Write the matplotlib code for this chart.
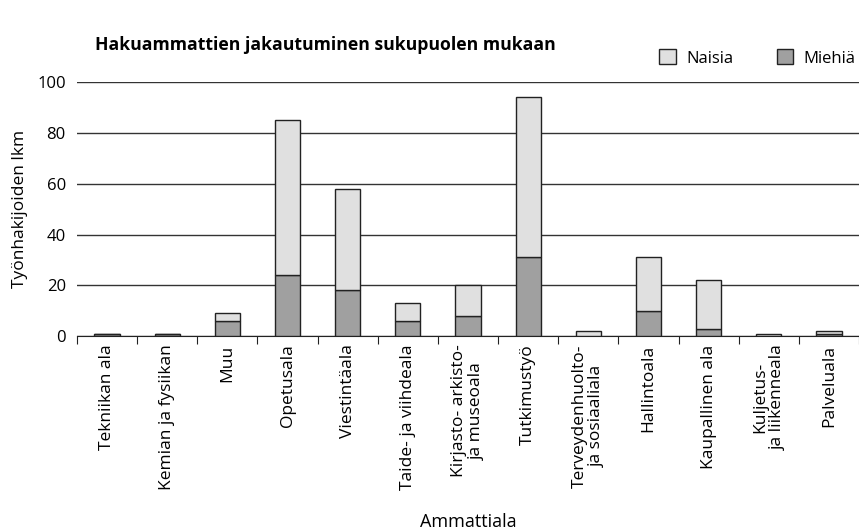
import numpy as np
import matplotlib.pyplot as plt

plt.rcParams['font.family'] = ['Open Sans', 'DejaVu Sans']

categories = ['Tekniikan ala', 'Kemian ja fysiikan', 'Muu', 'Opetusala', 'Viestintäala',
              'Taide- ja viihdeala', 'Kirjasto- arkisto-\nja museoala', 'Tutkimustyö',
              'Terveydenhuolto-\nja sosiaaliala', 'Hallintoala', 'Kaupallinen ala',
              'Kuljetus-\nja liikenneala', 'Palveluala']
miehia = [1, 1, 6, 24, 18, 6, 8, 31, 0, 10, 3, 0, 1]
naisia = [0, 0, 3, 61, 40, 7, 12, 63, 2, 21, 19, 1, 1]

fig = plt.figure(figsize=(8.59, 5.32), dpi=100)
ax = fig.add_axes([0.0896, 0.368, 0.9104, 0.478])

x = np.arange(len(categories))
ax.bar(x, miehia, width=0.42, color='#a0a0a0', edgecolor='#222222', linewidth=1,
       label='Miehiä', zorder=3)
ax.bar(x, naisia, width=0.42, bottom=miehia, color='#e0e0e0', edgecolor='#222222',
       linewidth=1, label='Naisia', zorder=3)

ax.set_xlim(-0.5, len(categories) - 0.5)
ax.set_ylim(0, 100)
ax.set_yticks(range(0, 101, 20))
ax.yaxis.grid(True, color='#333333', linewidth=1)
ax.set_axisbelow(True)
for s in ['top', 'right', 'left']:
    ax.spines[s].set_visible(False)
ax.spines['bottom'].set_color('#222222')
ax.tick_params(axis='y', length=0, labelsize=12, pad=8)

ax.set_xticks(np.arange(-0.5, len(categories)), minor=False)
ax.set_xticklabels([])
ax.set_xticks(x, minor=True)
ax.set_xticklabels(categories, minor=True, rotation=90, fontsize=12.5, va='top', ha='center',
                   linespacing=1.15)
ax.tick_params(axis='x', which='major', length=6, color='#222222')
ax.tick_params(axis='x', which='minor', length=0, pad=6)

ax.set_ylabel('Työnhakijoiden lkm', fontsize=12.5, labelpad=7)
fig.text(468 / 859, 1 - 522 / 532, 'Ammattiala', fontsize=13, ha='center', va='center')
fig.text(95 / 859, 1 - 45 / 532, 'Hakuammattien jakautuminen sukupuolen mukaan',
         fontsize=12.7, fontweight='bold', ha='left', va='center')

h, l = ax.get_legend_handles_labels()
fig.legend(h[::-1], l[::-1], ncol=2, loc='center right', bbox_to_anchor=(1.013, 1 - 58 / 532),
           frameon=False, fontsize=12, handlelength=1.0, handleheight=1.0,
           columnspacing=2.6, handletextpad=0.6)

fig.savefig('out.png', dpi=100)
